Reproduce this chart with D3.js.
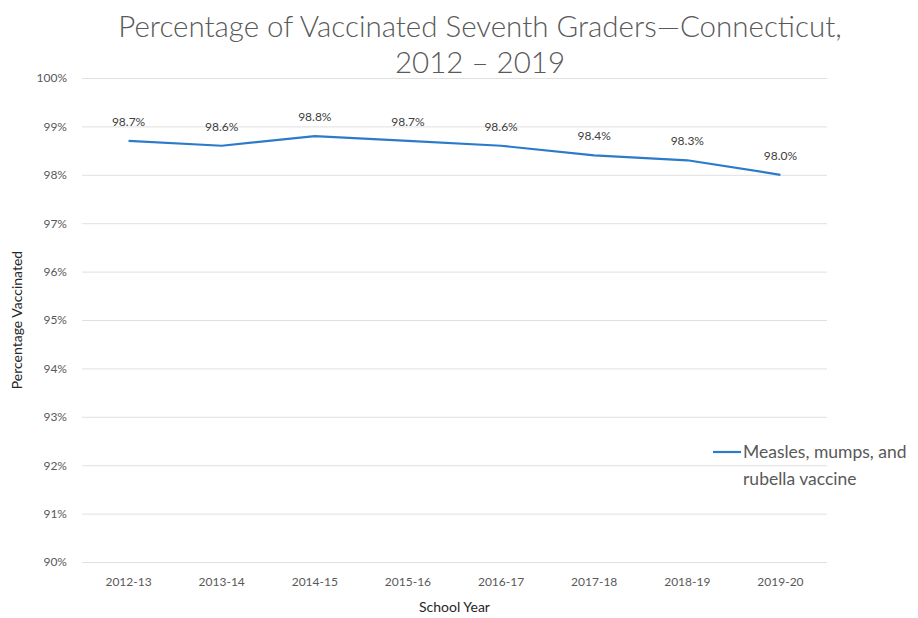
<!DOCTYPE html>
<html lang="en">
<head>
<meta charset="utf-8">
<title>Percentage of Vaccinated Seventh Graders</title>
<script src="https://d3js.org/d3.v7.min.js"></script>
<style>
    body { margin: 0; background: #fff; font-family: Lato, "Open Sans", sans-serif; }
    .grid line { stroke: #e0e0e0; stroke-width: 1px; }
    .tick text { fill: #595959; }
</style>
</head>
<body>
<svg id="chart" width="918" height="618"></svg>
<script>
const years = ["2012-13", "2013-14", "2014-15", "2015-16", "2016-17", "2017-18", "2018-19", "2019-20"];
const mmr = [98.7, 98.6, 98.8, 98.7, 98.6, 98.4, 98.3, 98.0];
const yTicks = [90, 91, 92, 93, 94, 95, 96, 97, 98, 99, 100];
const seriesName = ["Measles, mumps, and", "rubella vaccine"];

const svg = d3.select("#chart");
const plotLeft = 82, plotRight = 827, plotTop = 78, plotBottom = 562;

const x = d3.scaleBand().domain(years).range([plotLeft, plotRight]);
const y = d3.scaleLinear().domain([90, 100]).range([plotBottom, plotTop]);

// title
svg.append("text")
    .attr("text-anchor", "middle")
    .style("font-size", "29.5px")
    .style("font-weight", 300)
    .style("fill", "#595959")
    .selectAll("tspan")
    .data(["Percentage of Vaccinated Seventh Graders\u2014Connecticut,", "2012 \u2013 2019"])
    .join("tspan")
    .attr("x", 480)
    .attr("y", (d, i) => 37 + i * 36)
    .text(d => d);

// gridlines + y labels
svg.append("g")
    .attr("class", "grid")
    .attr("transform", `translate(${plotLeft},0)`)
    .call(d3.axisLeft(y).tickValues(yTicks).tickSize(-(plotRight - plotLeft)).tickFormat(d => d + "%"))
    .call(g => g.select(".domain").remove())
    .call(g => g.selectAll(".tick text")
        .attr("x", -15)
        .style("font-size", "12px")
        .style("font-family", "Lato, sans-serif"));

// x labels
svg.append("g")
    .attr("transform", `translate(0,${plotBottom})`)
    .call(d3.axisBottom(x).tickSize(0).tickPadding(15))
    .call(g => g.select(".domain").remove())
    .call(g => g.selectAll(".tick text")
        .style("font-size", "12px")
        .style("font-family", "Lato, sans-serif"));

// axis titles
svg.append("text")
    .attr("x", (plotLeft + plotRight) / 2).attr("y", 612)
    .attr("text-anchor", "middle")
    .style("font-size", "14px")
    .style("fill", "#262626")
    .text("School Year");

svg.append("text")
    .attr("transform", `translate(22,${(plotTop + plotBottom) / 2}) rotate(-90)`)
    .attr("text-anchor", "middle")
    .style("font-size", "14px")
    .style("fill", "#262626")
    .text("Percentage Vaccinated");

// line
const cx = d => x(d) + x.bandwidth() / 2;
const line = d3.line()
    .x((d, i) => cx(years[i]))
    .y(d => y(d));

svg.append("path")
    .datum(mmr)
    .attr("d", line)
    .attr("fill", "none")
    .attr("stroke", "#2b7bca")
    .attr("stroke-width", 2.2);

// data labels
svg.append("g")
    .selectAll("text")
    .data(mmr)
    .join("text")
    .attr("x", (d, i) => cx(years[i]))
    .attr("y", d => y(d) - 15)
    .attr("text-anchor", "middle")
    .style("font-size", "12px")
    .style("fill", "#404040")
    .text(d => d.toFixed(1) + "%");

// legend
svg.append("line")
    .attr("x1", 713).attr("x2", 741)
    .attr("y1", 452).attr("y2", 452)
    .attr("stroke", "#2b7bca")
    .attr("stroke-width", 2.2);

svg.append("text")
    .style("font-size", "17.5px")
    .style("fill", "#595959")
    .selectAll("tspan")
    .data(seriesName)
    .join("tspan")
    .attr("x", 743)
    .attr("y", (d, i) => 458 + i * 27)
    .text(d => d);
</script>
</body>
</html>
